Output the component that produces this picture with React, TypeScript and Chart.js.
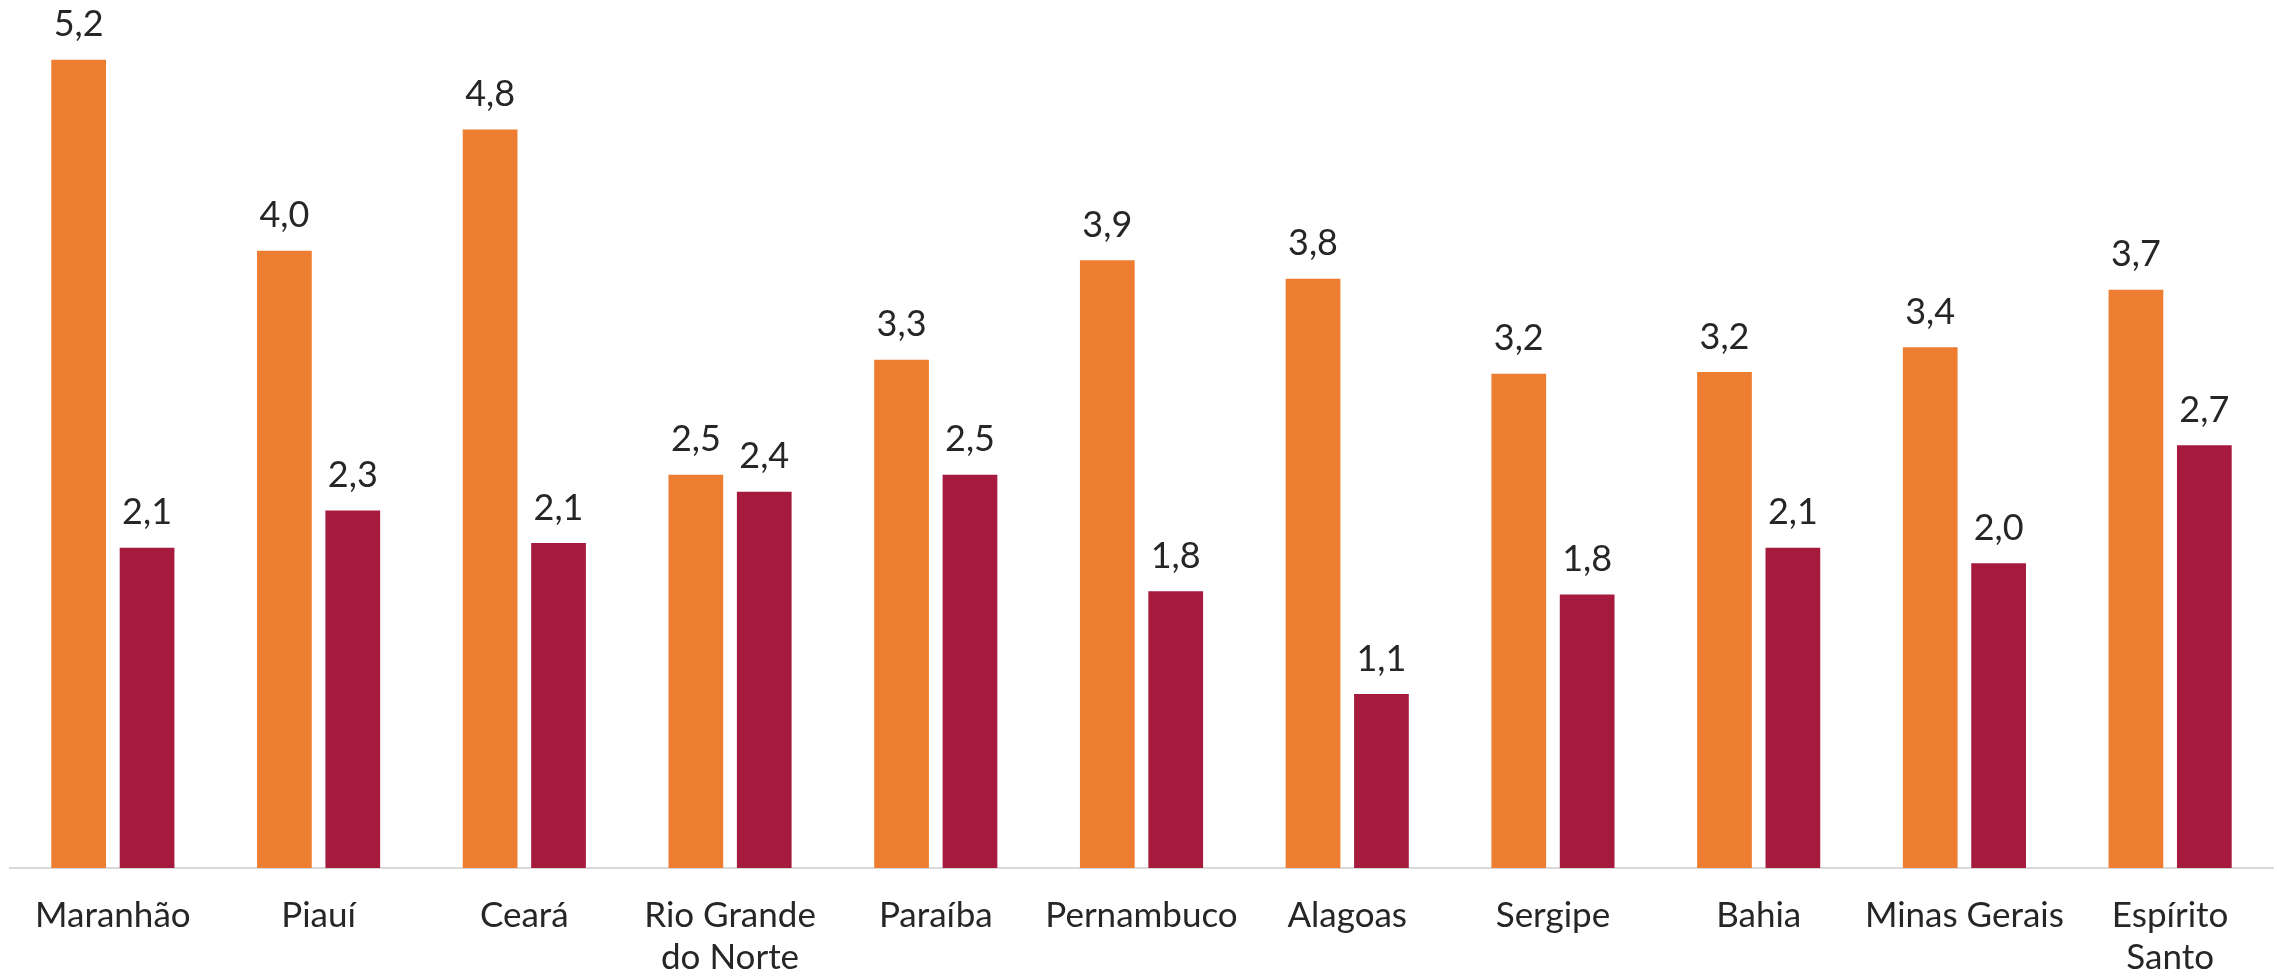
import React, { useEffect, useRef } from "react";
import { Chart, registerables } from "chart.js";

Chart.register(...registerables);

const categories: (string | string[])[] = [
  "Maranhão",
  "Piauí",
  "Ceará",
  ["Rio Grande", "do Norte"],
  "Paraíba",
  "Pernambuco",
  "Alagoas",
  "Sergipe",
  "Bahia",
  "Minas Gerais",
  ["Espírito", "Santo"],
];

const seriesOrange = [5.2, 3.97, 4.75, 2.53, 3.27, 3.91, 3.79, 3.18, 3.19, 3.35, 3.72];
const seriesRed = [2.06, 2.3, 2.09, 2.42, 2.53, 1.78, 1.12, 1.76, 2.06, 1.96, 2.72];

const ORANGE = "#ED7D31";
const RED = "#A51A3D";
const TEXT = "#262626";
const FONT = "Lato, 'Open Sans', sans-serif";

const valueLabels = {
  id: "valueLabels",
  afterDatasetsDraw(chart: any) {
    const ctx = chart.ctx;
    ctx.save();
    ctx.font = `36px ${FONT}`;
    ctx.fillStyle = TEXT;
    ctx.textAlign = "center";
    ctx.textBaseline = "middle";
    chart.data.datasets.forEach((ds: any, i: number) => {
      const meta = chart.getDatasetMeta(i);
      meta.data.forEach((bar: any, j: number) => {
        const v = ds.data[j] as number;
        const txt = v.toFixed(1).replace(".", ",");
        ctx.fillText(txt, bar.x, bar.y - 35);
      });
    });
    ctx.restore();
  },
};

export default function App() {
  const ref = useRef<HTMLCanvasElement | null>(null);
  useEffect(() => {
    if (!ref.current) return;
    const chart = new Chart(ref.current, {
      type: "bar",
      data: {
        labels: categories,
        datasets: [
          {
            label: "A",
            data: seriesOrange,
            backgroundColor: ORANGE,
            categoryPercentage: 0.665,
            barPercentage: 0.8,
          },
          {
            label: "B",
            data: seriesRed,
            backgroundColor: RED,
            categoryPercentage: 0.665,
            barPercentage: 0.8,
          },
        ],
      },
      options: {
        responsive: false,
        animation: false,
        devicePixelRatio: 1,
        layout: { padding: { top: 13, left: 10, right: 4, bottom: 0 } },
        plugins: {
          legend: { display: false },
          tooltip: { enabled: false },
        },
        scales: {
          x: {
            grid: { display: true, color: "transparent", drawTicks: false },
            border: { display: true, color: "#D9D9D9", width: 2 },
            ticks: {
              color: TEXT,
              font: { family: FONT, size: 35, lineHeight: 1.2 },
              padding: 27,
              maxRotation: 0,
              autoSkip: false,
            },
            afterFit: (scale: any) => {
              scale.height = 108;
            },
          },
          y: {
            display: false,
            min: 0,
            max: 5.5,
          },
        },
      },
      plugins: [valueLabels],
    });
    return () => chart.destroy();
  }, []);
  return (
    <div style={{ position: "absolute", left: 0, top: 0, width: 2277, height: 976, background: "#fff" }}>
      <canvas ref={ref} width={2277} height={976} style={{ width: 2277, height: 976, display: "block" }} />
    </div>
  );
}
